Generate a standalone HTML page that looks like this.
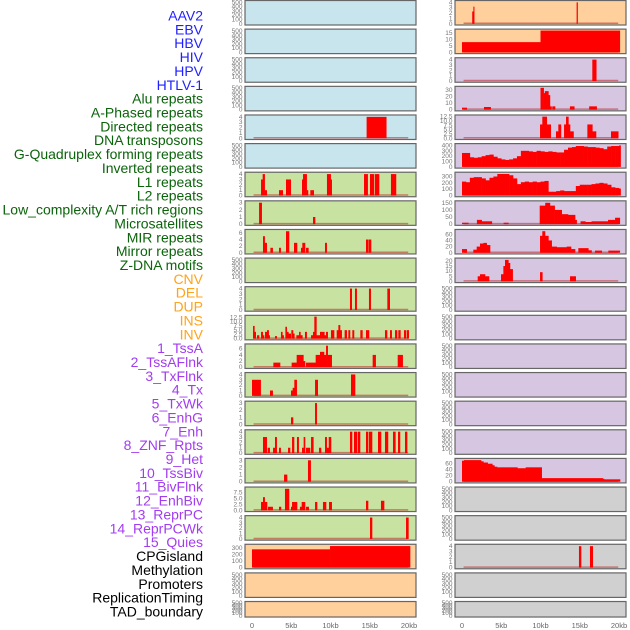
<!DOCTYPE html>
<html><head><meta charset="utf-8">
<style>
html,body{margin:0;padding:0;background:#fff;}
#wrap{position:relative;width:630px;height:630px;overflow:hidden;font-family:"Liberation Sans",sans-serif;}
svg{position:absolute;left:0;top:0;}
</style></head>
<body>
<div id="wrap">
<svg id="chart" width="630" height="630" viewBox="0 0 630 630"></svg>
</div>
<script>
// ---- data ----
const trackLabels = ["AAV2","EBV","HBV","HIV","HPV","HTLV-1","Alu repeats","A-Phased repeats","Directed repeats","DNA transposons","G-Quadruplex forming repeats","Inverted repeats","L1 repeats","L2 repeats","Low_complexity A/T rich regions","Microsatellites","MIR repeats","Mirror repeats","Z-DNA motifs","CNV","DEL","DUP","INS","INV","1_TssA","2_TssAFlnk","3_TxFlnk","4_Tx","5_TxWk","6_EnhG","7_Enh","8_ZNF_Rpts","9_Het","10_TssBiv","11_BivFlnk","12_EnhBiv","13_ReprPC","14_ReprPCWk","15_Quies","CPGisland","Methylation","Promoters","ReplicationTiming","TAD_boundary"];
const labelGroups = [0,0,0,0,0,0,1,1,1,1,1,1,1,1,1,1,1,1,1,2,2,2,2,2,3,3,3,3,3,3,3,3,3,3,3,3,3,3,3,4,4,4,4,4];
const xTickLabels = ["0","5kb","10kb","15kb","20kb"];
const xTickValues = [0,5,10,15,20];
const emptyTicks = [0,100,200,300,400,500];

// half-kb samples
const r5RSteps = [260,260,180,170,180,200,220,230,190,160,140,130,140,160,200,300,300,290,280,300,290,280,290,280,270,270,320,360,370,390,390,380,370,370,360,350,330,380,390,390,400];
const r6RSteps = [220,210,280,290,290,270,240,280,300,340,340,340,320,270,180,210,220,210,220,210,220,230,60,60,70,80,70,70,70,150,170,170,170,180,190,200,190,170,130,120,110];

const r0R = [[1.3,1.45,2.3],[1.45,1.55,3.2],[14.6,14.72,4]];
const r1R = [[0,10,8],[10,20.1,17]];
const r2R = [[16.6,17.1,4]];
const r3R = [[0,0.6,3],[2.8,3.65,4],[10,10.4,33],[10.4,10.55,25],[10.55,11,28],[11,11.2,22],[11.2,11.4,5],[11.5,11.85,5],[13.75,14.3,5],[16.2,17.15,5]];
const r4L = [[14.6,17.1,4]];
const r4R = [[9.94,10.23,8],[10.23,10.79,12.5],[10.79,11.3,8],[11.97,12.27,4],[12.27,12.6,8],[13,13.25,8],[13.25,13.55,12.5],[13.55,13.76,8],[13.76,14.2,4],[15.97,16.6,8],[16.6,17.07,4],[18.98,19.9,4]];
const r6L = [[1.15,1.36,3],[1.36,1.61,4],[1.61,1.87,1],[3.44,3.91,1],[4.33,4.5,3],[4.5,4.93,3],[6.37,6.5,3],[6.5,6.96,4],[6.96,7.13,1],[7.43,7.86,1],[9.55,10.02,4],[10.02,10.15,3],[14.27,14.73,4],[15.03,15.54,4],[15.67,16.18,4],[17.7,18.34,4]];
const r7L = [[0.9,1.23,3],[7.77,8.03,1]];
const r7R = [[0,0.8,10],[1.9,2.5,30],[2.5,3.8,20],[5.3,5.9,10],[9.9,10.6,130],[10.6,11.2,150],[11.2,11.8,130],[11.8,12.7,100],[12.7,13.5,70],[13.5,14.4,65],[14.4,14.6,30],[15.1,15.7,20],[15.7,16.5,15],[16.5,18.6,20],[18.6,19.5,30],[19.5,20.1,45]];
const r8L = [[1.4,1.61,5],[1.61,1.87,3],[2.34,2.63,1.5],[3.44,3.65,1.5],[4.33,4.71,6.5],[5.35,5.73,3],[6.24,6.41,1.5],[6.41,6.75,3],[6.88,7.18,1.5],[9.3,9.51,3],[14.52,14.78,4],[14.86,15.16,4]];
const r8R = [[0,0.6,12],[1.44,1.87,10],[1.87,2.29,20],[2.29,2.72,30],[2.72,3.14,32],[3.14,3.57,25],[9.94,10.23,55],[10.23,10.57,70],[10.57,11,55],[11,11.42,40],[11.42,12.06,20],[12.06,13.33,18],[13.33,13.89,20],[13.89,14.4,12],[14.82,16.09,15],[16.09,16.5,8],[16.94,17.8,7],[18.64,20.1,7]];
const r9R = [[2,2.29,5],[2.29,2.93,7],[2.93,3.44,5],[4.97,5.27,7],[5.27,5.48,15],[5.48,5.9,21],[5.9,6.11,18],[6.11,6.45,12],[9.94,10.23,9],[13.76,14.48,5]];
const r10L = [[12.48,12.7,4],[13.12,13.33,4],[14.9,15.12,4],[17.24,17.54,4]];
const r11L = [[0.13,0.3,7.5],[0.3,0.47,4],[0.64,0.89,2],[1.15,1.36,4],[1.36,1.53,2],[1.66,1.91,4],[1.91,2.12,5],[2.12,2.25,2],[2.93,3.14,1.5],[3.69,3.86,4],[3.86,4.03,2],[4.25,4.42,7],[4.42,4.63,4],[4.63,4.93,3],[5.01,5.22,5],[5.22,5.39,3],[5.65,5.99,2],[5.99,6.16,4],[6.16,6.41,2],[6.75,6.96,4],[7.52,7.77,2],[7.77,7.94,4],[7.94,8.2,13],[8.2,8.66,2],[8.66,8.87,4],[8.87,9.21,4],[9.21,9.43,2],[9.43,9.64,4],[10.06,10.45,5],[10.79,11,5],[11,11.21,8],[11.21,11.42,5],[11.8,12.06,5],[12.27,12.48,5],[12.78,12.99,5],[13.8,14.06,5],[14.52,14.9,5],[16.94,17.2,5],[17.58,17.79,5],[18.22,18.47,5],[18.64,18.9,5],[19.36,19.58,5],[19.7,19.96,5]];
const r12L = [[2.72,3.57,1.5],[5.05,5.69,1.5],[5.69,6.54,4],[6.54,6.75,2],[6.88,8.11,1.5],[8.11,8.66,4],[8.66,9.17,5],[9.17,9.43,4],[9.43,9.64,7],[9.64,9.85,4],[9.85,10.15,4],[15.37,15.75,4],[18.56,19.19,4]];
const r13L = [[0,1.1,3],[2.29,2.63,1],[4.97,5.18,1],[5.18,5.39,1.5],[5.39,5.69,3],[8.03,8.37,3],[12.61,13.12,4]];
const r14L = [[4.97,5.22,1],[8.03,8.24,3]];
const r15L = [[1.4,1.87,3],[2,2.25,1],[2.68,2.93,1],[2.93,3.14,3],[3.44,3.65,1],[4.59,4.84,1],[5.1,5.35,3],[5.73,5.94,3],[6.37,6.58,1],[6.58,6.75,3],[6.88,7.39,1],[7.52,7.81,3],[8.54,8.79,1],[9.3,9.51,3],[9.51,9.77,1],[9.77,10.06,3],[12.48,12.74,4],[12.99,13.38,4],[13.5,13.76,4],[14.52,14.78,4],[14.9,15.29,4],[16.05,16.43,4],[16.94,17.32,4],[17.96,18.26,4],[18.6,18.85,4],[19.49,19.75,4]];
const r16L = [[4.08,4.46,1],[7.13,7.47,3]];
const r16R = [[0,0.25,70],[0.25,2.42,72],[2.42,2.72,68],[2.72,3.27,64],[3.27,3.86,60],[3.86,4.12,55],[4.12,4.46,50],[4.46,7.05,48],[7.05,8.11,45],[8.11,10.15,48],[10.15,17.92,12],[17.92,18.09,10],[18.09,20.13,8]];
const r17L = [[1.15,1.4,3.5],[1.4,1.61,5.5],[1.61,1.91,3.5],[2.04,2.63,1.5],[3.44,3.69,1.5],[4.2,4.71,9],[4.97,5.1,1.5],[5.1,5.73,3.5],[6.11,6.33,1.5],[6.33,6.75,3.5],[6.88,7.22,1.5],[8.03,8.28,3.5],[9.04,9.43,3.5],[9.81,10.15,3.5],[14.52,14.78,4],[16.43,16.82,4]];
const r18L = [[15.03,15.29,4],[19.62,19.92,4]];
const r19L = [[0,9.94,280],[9.94,20.13,330]];
const r19R = [[14.9,15.16,4],[16.3,16.65,4]];

function steps(arr){ const st=0.5; return arr.map((v,k)=>[k*st, k===arr.length-1 ? k*st+0.2 : (k+1)*st, v]); }

const BLUE="#c8e4ec", GREEN="#c8e2a2", ORANGE="#ffcf9c", PURPLE="#d6c6e2", GREY="#d0d0d0";
// [row, col, background, ticks, tickLabels, ymax, segments]
const panels = [
 [0,0,BLUE,emptyTicks,null,525,null],[0,1,ORANGE,[0,1,2,3,4],null,4.2,r0R],
 [1,0,BLUE,emptyTicks,null,525,null],[1,1,ORANGE,[0,5,10,15],null,17.5,r1R],
 [2,0,BLUE,emptyTicks,null,525,null],[2,1,PURPLE,[0,1,2,3,4],null,4.2,r2R],
 [3,0,BLUE,emptyTicks,null,525,null],[3,1,PURPLE,[0,10,20,30],null,34,r3R],
 [4,0,BLUE,[0,1,2,3,4],null,4.2,r4L],[4,1,PURPLE,[0,2.5,5,7.5,10,12.5],["0.0","2.5","5.0","7.5","10.0","12.5"],13,r4R],
 [5,0,BLUE,emptyTicks,null,525,null],[5,1,PURPLE,[0,100,200,300,400],null,420,steps(r5RSteps)],
 [6,0,GREEN,[0,1,2,3,4],null,4.2,r6L],[6,1,PURPLE,[0,100,200,300],null,355,steps(r6RSteps)],
 [7,0,GREEN,[0,1,2,3],null,3.15,r7L],[7,1,PURPLE,[0,50,100,150],null,158,r7R],
 [8,0,GREEN,[0,2,4,6],null,6.8,r8L],[8,1,PURPLE,[0,20,40,60],null,73,r8R],
 [9,0,GREEN,emptyTicks,null,525,null],[9,1,PURPLE,[0,5,10,15,20],null,22,r9R],
 [10,0,GREEN,[0,1,2,3,4],null,4.2,r10L],[10,1,PURPLE,emptyTicks,null,525,null],
 [11,0,GREEN,[0,2.5,5,7.5,10,12.5],["0.0","2.5","5.0","7.5","10.0","12.5"],13.3,r11L],[11,1,PURPLE,emptyTicks,null,525,null],
 [12,0,GREEN,[0,2,4,6],null,7.3,r12L],[12,1,PURPLE,emptyTicks,null,525,null],
 [13,0,GREEN,[0,1,2,3,4],null,4.2,r13L],[13,1,PURPLE,emptyTicks,null,525,null],
 [14,0,GREEN,[0,1,2,3],null,3.15,r14L],[14,1,PURPLE,emptyTicks,null,525,null],
 [15,0,GREEN,[0,1,2,3,4],null,4.2,r15L],[15,1,PURPLE,emptyTicks,null,525,null],
 [16,0,GREEN,[0,1,2,3],null,3.15,r16L],[16,1,PURPLE,[0,20,40,60],null,75,r16R],
 [17,0,GREEN,[0,2.5,5,7.5],["0.0","2.5","5.0","7.5"],9.4,r17L],[17,1,GREY,emptyTicks,null,525,null],
 [18,0,GREEN,[0,1,2,3,4],null,4.2,r18L],[18,1,GREY,emptyTicks,null,525,null],
 [19,0,ORANGE,[0,100,200,300],null,345,r19L],[19,1,GREY,[0,1,2,3,4],null,4.2,r19R],
 [20,0,ORANGE,emptyTicks,null,525,null],[20,1,GREY,emptyTicks,null,525,null],
 [21,0,ORANGE,emptyTicks,null,525,null],[21,1,GREY,emptyTicks,null,525,null]
];

// ---- drawing ----
const NS="http://www.w3.org/2000/svg";
const svg=document.getElementById('chart');
function mk(tag,attrs,parent){const e=document.createElementNS(NS,tag);for(const k in attrs)e.setAttribute(k,attrs[k]);(parent||svg).appendChild(e);return e;}
const colX=[245,455], colW=171, dataX0=[252,462], pxPerKb=7.85;
const ROW=28.62;
function rowTop(r){return 0.5+r*ROW;}
function rowH(r){return r===21?15.5:24.5;}
function xScale(col,kb){return dataX0[col]+kb*pxPerKb;}
function yScale(top,h,ymax,v){const b=top+h-1.2, t=top+0.8;return b-(v/ymax)*(b-t);}

const labelColors=["#1f1fff","#0b640b","#ffa31a","#a33cf0","#000000"];
trackLabels.forEach((lab,i)=>{
  const t=mk('text',{x:203,y:20.5+i*13.86,'text-anchor':'end','font-size':'14',fill:labelColors[labelGroups[i]],'font-family':'Liberation Sans, sans-serif'});
  t.textContent=lab;
  
  
});

panels.forEach(p=>{
  const [r,c,bg,ticks,tl,ymax,segs]=p;
  const top=rowTop(r), h=rowH(r), x=colX[c];
  const g=mk('g',{});
  
  
  const rect=mk('rect',{x:x,y:top,width:colW,height:h,fill:bg,stroke:'#666','stroke-width':1.2},g);
  
  
  ticks.forEach((tv,j)=>{
    const t=mk('text',{x:x-2.5,y:yScale(top,h,ymax,tv)+2,'text-anchor':'end','font-size':'6.5',fill:'#777'},g);
    t.textContent=tl?tl[j]:String(tv);
    
    
  });
  if(segs){
    const y0=yScale(top,h,ymax,0);
    const base=mk('line',{x1:xScale(c,0.2),x2:xScale(c,19.9),y1:y0-0.5,y2:y0-0.5,stroke:'rgba(190,40,40,0.55)','stroke-width':1.5},g);
    
    
    segs.forEach(s=>{
      const x1=xScale(c,s[0]), x2=xScale(c,s[1]), yt=yScale(top,h,ymax,s[2]);
      const b=mk('rect',{x:x1,y:yt,width:Math.max(1,x2-x1+0.3),height:Math.max(0.5,y0-yt),fill:'#ff0000'},g);
      
      
    });
  }
});

[0,1].forEach(c=>{
  xTickValues.forEach((v,j)=>{
    const t=mk('text',{x:xScale(c,v),y:628,'text-anchor':'middle','font-size':'7.5',fill:'#666'});
    t.textContent=xTickLabels[j];
    
    
  });
});
</script>
</body></html>
